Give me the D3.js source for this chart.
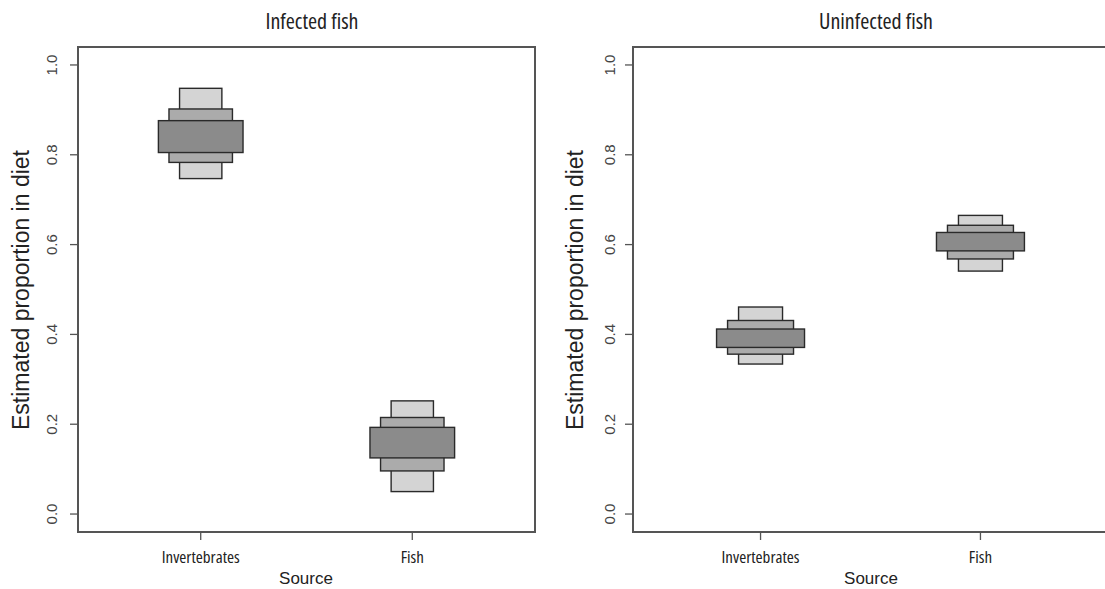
<!DOCTYPE html>
<html>
<head>
<meta charset="utf-8">
<title>Estimated proportion in diet</title>
<script src="https://d3js.org/d3.v7.min.js"></script>
<style>
body { margin: 0; background: #fff; }
.narrow { font-family: 'Liberation Sans Narrow', 'Open Sans', sans-serif; font-stretch: condensed; }
.plain { font-family: 'Liberation Sans', Arial, sans-serif; }
</style>
</head>
<body>
<svg id="svg" width="1105" height="589"></svg>
<script>
// data
const sources = ["Invertebrates", "Fish"];
const yTicks = [0, 0.2, 0.4, 0.6, 0.8, 1.0];
const panelTitles = ["Infected fish", "Uninfected fish"];
// credible intervals per source: [low, high] for the 95%, 75% and 50% bands
const infected95 = [[0.747, 0.948], [0.050, 0.252]];
const infected75 = [[0.783, 0.902], [0.096, 0.215]];
const infected50 = [[0.805, 0.876], [0.125, 0.193]];
const uninfected95 = [[0.334, 0.461], [0.541, 0.665]];
const uninfected75 = [[0.356, 0.431], [0.568, 0.643]];
const uninfected50 = [[0.371, 0.412], [0.586, 0.627]];

const bandWidths = [0.2, 0.3, 0.4];
const bandFills = ["#d4d4d4", "#ababab", "#8b8b8b"];

const svg = d3.select("#svg");

const panels = [
    { title: panelTitles[0], bands: [infected95, infected75, infected50], left: 78, right: 535, titleX: 312, labelX: 21, tickLabX: 52, sourceX: 306 },
    { title: panelTitles[1], bands: [uninfected95, uninfected75, uninfected50], left: 633, right: 1108, titleX: 876, labelX: 575, tickLabX: 610, sourceX: 871 }
];
const plotTop = 47, plotBottom = 532;

panels.forEach(p => {
    const x = d3.scaleLinear().domain([0.42, 2.58]).range([p.left, p.right]);
    const y = d3.scaleLinear().domain([-0.04, 1.04]).range([plotBottom, plotTop]);
    const g = svg.append("g");

    // bands, widest (95%) drawn first
    p.bands.forEach((band, bi) => {
        band.forEach((d, i) => {
            const cx = i + 1;
            g.append("rect")
                .attr("x", x(cx - bandWidths[bi] / 2))
                .attr("width", x(cx + bandWidths[bi] / 2) - x(cx - bandWidths[bi] / 2))
                .attr("y", y(d[1]))
                .attr("height", y(d[0]) - y(d[1]))
                .attr("fill", bandFills[bi])
                .attr("stroke", "#2a2a2a")
                .attr("stroke-width", 1.4);
        });
    });

    // frame
    g.append("rect")
        .attr("x", p.left).attr("y", plotTop)
        .attr("width", p.right - p.left).attr("height", plotBottom - plotTop)
        .attr("fill", "none").attr("stroke", "#555").attr("stroke-width", 2);

    // y ticks
    yTicks.forEach(t => {
        g.append("line")
            .attr("x1", p.left - 8).attr("x2", p.left)
            .attr("y1", y(t)).attr("y2", y(t))
            .attr("stroke", "#555").attr("stroke-width", 1.3);
        g.append("text")
            .attr("class", "plain")
            .attr("transform", `translate(${p.tickLabX},${y(t)}) rotate(-90)`)
            .attr("text-anchor", "middle")
            .attr("dy", "0.35em")
            .attr("font-size", "15px")
            .attr("fill", "#444")
            .text(d3.format(".1f")(t));
    });

    // x ticks
    sources.forEach((s, i) => {
        g.append("line")
            .attr("x1", x(i + 1)).attr("x2", x(i + 1))
            .attr("y1", plotBottom).attr("y2", plotBottom + 8)
            .attr("stroke", "#555").attr("stroke-width", 1.3);
        g.append("text")
            .attr("class", "narrow")
            .attr("x", x(i + 1)).attr("y", 563)
            .attr("text-anchor", "middle")
            .attr("font-size", "17px")
            .attr("fill", "#222")
            .text(s);
    });

    // titles and axis labels
    g.append("text")
        .attr("class", "narrow")
        .attr("x", p.titleX).attr("y", 29)
        .attr("text-anchor", "middle")
        .attr("font-size", "22px")
        .attr("fill", "#222")
        .text(p.title);

    g.append("text")
        .attr("class", "plain")
        .attr("x", p.sourceX).attr("y", 584)
        .attr("text-anchor", "middle")
        .attr("font-size", "17px")
        .attr("fill", "#222")
        .text("Source");

    g.append("text")
        .attr("class", "plain")
        .attr("transform", `translate(${p.labelX},290) rotate(-90)`)
        .attr("text-anchor", "middle")
        .attr("dy", "0.35em")
        .attr("font-size", "23px")
        .attr("fill", "#222")
        .text("Estimated proportion in diet");
});
</script>
</body>
</html>
